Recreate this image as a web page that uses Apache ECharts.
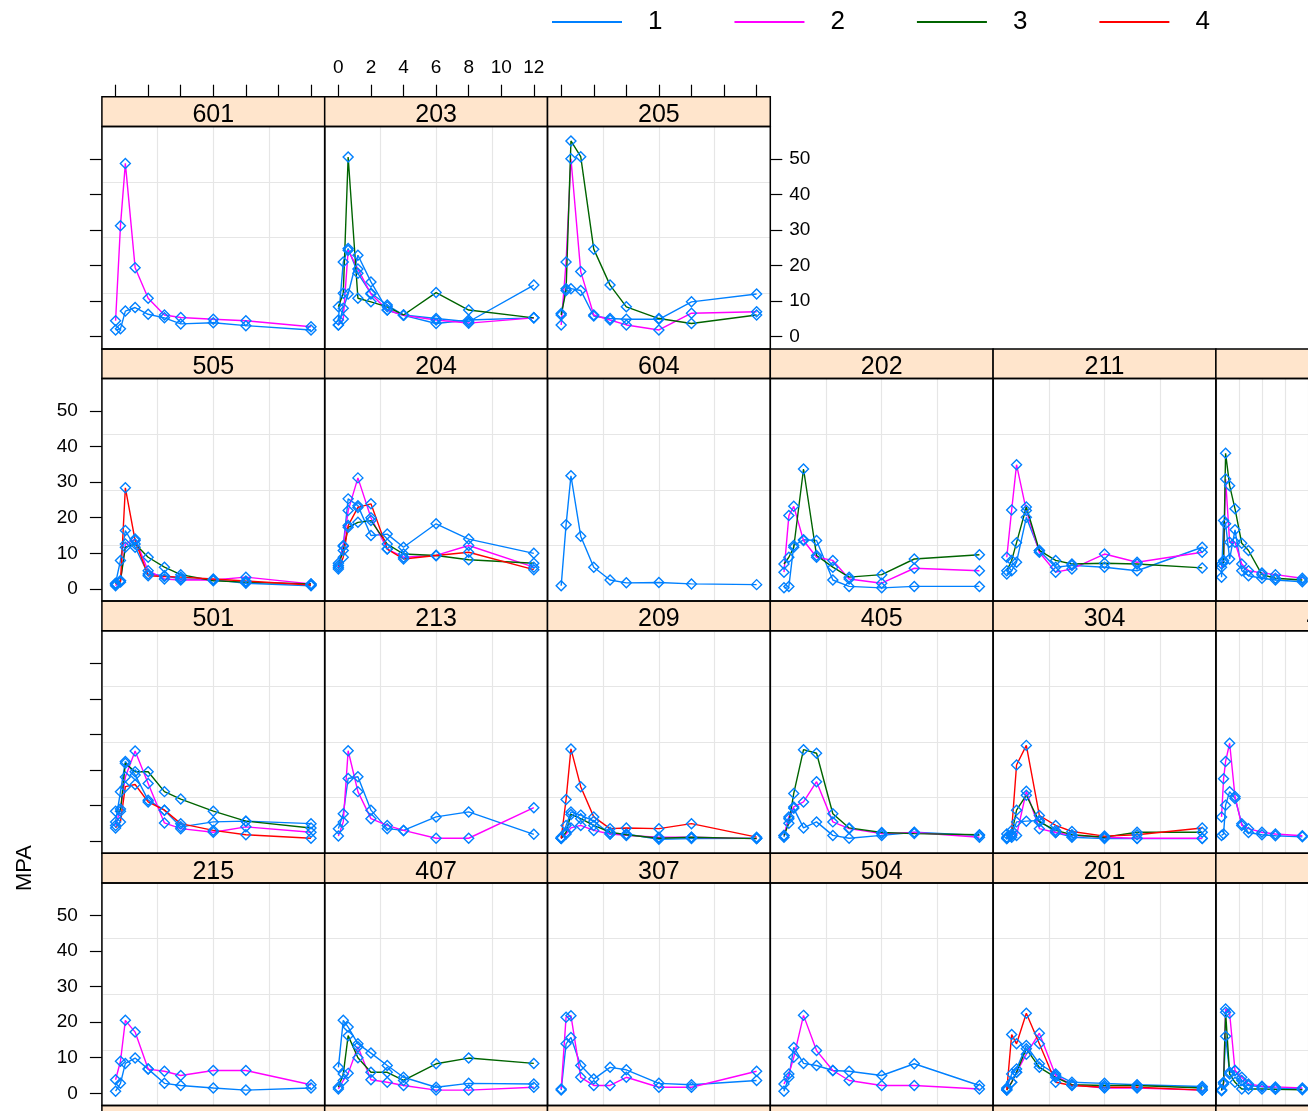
<!DOCTYPE html>
<html><head><meta charset="utf-8">
<script src="https://cdn.jsdelivr.net/npm/echarts@6/dist/echarts.min.js"></script>
<style>html,body{margin:0;padding:0;background:#fff}#c{width:1308px;height:1111px}</style>
</head><body><div id="c"></div>
<script>
// ---------- data ----------
const times = [0, 0.3, 0.6, 1.2, 2, 3, 4, 6, 8, 12];
const groupNames = ['1', '2', '3', '4'];
const xTicks = [0, 2, 4, 6, 8, 10, 12];
const yTicks = [0, 10, 20, 30, 40, 50];
const yLabel = 'MPA';
// panel labels, rows top to bottom, columns left to right
const row1Panels = ['601', '203', '205'];
const row2Panels = ['505', '204', '604', '202', '211', '102'];
const row3Panels = ['501', '213', '209', '405', '304', '403'];
const row4Panels = ['215', '407', '307', '504', '201', '101'];
const nextRowColumns = 6; // strips of the following (cut off) row peek in at the bottom

const s601_1 = [1.9, 2.2, 7.2, 8.2, 6.3, 5.3, 3.6, 3.9, 3.1, 1.9];
const s601_2 = [4.5, 31.2, 48.7, 19.4, 10.8, 6.1, 5.4, 4.9, 4.5, 2.8];

const s203_1a = [4.7, 21, 24.8, 17.8, 12.2, 8.9, 6.1, 5.1, 4.2, 14.5];
const s203_1b = [3.3, 8, 12, 22.9, 15.4, 7.5, 6, 3.7, 4.7, 5.3];
const s203_2 = [3.3, 5, 24.3, 19, 12, 7.5, 6, 4.7, 3.8, 5.3];
const s203_3 = [8.4, 12.2, 50.5, 10.8, 9.8, 8.4, 6.1, 12.4, 7.5, 5.3];

const s205_1 = [6.5, 13.5, 13.5, 13, 5.8, 5.1, 4.9, 4.9, 9.8, 12];
const s205_2 = [3.3, 21, 50, 18.3, 6.1, 4.7, 3.3, 1.9, 6.6, 7];
const s205_3 = [6.1, 13, 55, 50.6, 24.6, 14.5, 8.4, 5.1, 3.7, 6.1];

const s505_1 = [1.6, 8, 16.4, 11.7, 4.2, 3.7, 2.8, 2.6, 1.6, 0.9];
const s505_2 = [0.9, 2.3, 12.6, 14, 5.1, 2.8, 2.5, 2.5, 3.3, 1.4];
const s505_3 = [1.4, 2.3, 11.7, 12.6, 8.9, 6.1, 4, 2.3, 1.9, 1.4];
const s505_4 = [1.4, 1.9, 28.4, 13.6, 3.7, 3.5, 3.3, 2.8, 2.2, 1.1];

const s204_1 = [7.2, 12.2, 25.3, 23.4, 15, 15.4, 11.7, 18.3, 14, 10];
const s204_2 = [6.1, 12, 22, 31.2, 20, 11.2, 8.9, 9.4, 12.2, 6.1];
const s204_3 = [6.6, 10.8, 17.3, 18.7, 19.2, 12.6, 9.8, 9.4, 8.2, 7.2];
const s204_4 = [5.6, 8.9, 17.8, 22.9, 23.9, 11.2, 8.4, 9.4, 10.3, 5.4];

const s604_1 = [0.9, 18, 31.8, 14.8, 6.1, 2.5, 1.7, 1.8, 1.4, 1.2];

const s202_1 = [0.3, 0.7, 12.2, 13.8, 13.6, 2.5, 0.7, 0.3, 0.7, 0.7];
const s202_2 = [4.7, 20.6, 23.2, 13.6, 8.9, 8, 2.8, 1.6, 5.8, 5.1];
const s202_3 = [7, 8.9, 11.7, 33.7, 9.4, 6.1, 3.3, 4, 8.4, 9.6];

const s211_1 = [4.2, 5.1, 7.5, 20.1, 10.8, 6.1, 6.6, 6.1, 5.1, 11.7];
const s211_2 = [8.9, 22.2, 34.9, 22, 10.3, 4.7, 5.6, 9.8, 7.5, 10.3];
const s211_3 = [5.1, 8, 13, 23, 10.8, 8, 7, 7.2, 7, 5.9];

const s102_1 = [3.3, 19.2, 18.3, 8.4, 16.6, 5.1, 3.7, 3, 2.5, 2];
const s102_2 = [6.1, 8, 30.9, 13.1, 13.1, 7, 5.1, 4.5, 4, 3];
const s102_3 = [7, 7.5, 38.1, 29, 22.5, 12.8, 10.8, 4, 3, 2.5];

const s501_1 = [5.4, 13.9, 22.4, 18.6, 11.5, 8.7, 4, 5.4, 5.6, 4.9];
const s501_2 = [4.4, 9, 18, 25.3, 16.2, 5.1, 3.5, 2.5, 4, 2.5];
const s501_3 = [8.4, 8.4, 21.9, 19.5, 19.5, 13.9, 11.8, 8.4, 5.6, 3.7];
const s501_4 = [3.7, 5.4, 15.3, 15.9, 11, 8.7, 4.9, 3, 1.8, 0.8];

const s213_1 = [3.5, 7.7, 17.6, 18.1, 8.7, 3.5, 3, 6.8, 8.2, 1.9];
const s213_2 = [1.4, 5.4, 25.4, 13.9, 6.3, 4.4, 3, 0.8, 0.8, 9.4];

const s209_1 = [1.1, 4.4, 8.2, 7.3, 5.6, 2, 2, 0.5, 0.7, 0.8];
const s209_2 = [0.7, 2, 3.7, 4.4, 3, 2, 1.6, 1.1, 1.1, 0.7];
const s209_3 = [0.8, 2.5, 7.5, 6.3, 4.4, 2.5, 1.8, 0.8, 1.1, 0.7];
const s209_4 = [0.8, 11.7, 25.9, 15.3, 6.8, 3.5, 3.7, 3.5, 4.9, 1.1];

const s405_1 = [1.1, 6.3, 9.2, 3.7, 5.4, 1.6, 0.8, 1.6, 2.5, 1.6];
const s405_2 = [1.6, 6.8, 9.6, 11, 16.7, 5.4, 3.5, 2.1, 2.4, 1.1];
const s405_3 = [1.6, 5, 13.4, 25.7, 24.7, 7.7, 3.7, 2.4, 2.1, 1.8];

const s304_1 = [2, 1.6, 5.4, 5.6, 5.8, 2.4, 1.1, 0.7, 0.7, 0.7];
const s304_2 = [0.7, 1.1, 1.6, 14, 3.5, 2.4, 1.6, 1.1, 0.8, 0.8];
const s304_3 = [0.7, 2, 8.7, 12.9, 5.4, 3, 1.8, 1.1, 2.5, 2.5];
const s304_4 = [1.1, 3, 21.4, 26.9, 7.2, 4.4, 2.7, 1.4, 1.8, 3.7];

const s403_1 = [1.6, 2, 10.1, 13.9, 12, 4.9, 2.4, 1.8, 1.5, 1.2];
const s403_2 = [6.8, 17.5, 22.4, 27.5, 12.5, 4.4, 3.5, 2.5, 2, 1.5];

const s215_1 = [0.6, 2.8, 8.4, 9.9, 6.8, 2.8, 2.2, 1.5, 0.9, 1.5];
const s215_2 = [3.8, 9, 20.5, 17.2, 6.8, 6.2, 5, 6.4, 6.4, 2.4];

const s407_1 = [7.3, 20.5, 18.6, 13.9, 11.3, 7.8, 4.5, 1.7, 2.8, 2.6];
const s407_2 = [1.2, 3.6, 5.6, 13.1, 3.8, 3.1, 2.2, 0.9, 0.9, 1.7];
const s407_3 = [1.7, 5.4, 16.2, 10, 5.9, 5.9, 3.6, 8.3, 9.9, 8.4];

const s307_1 = [0.9, 13.9, 15.7, 7.8, 4, 7.3, 6.6, 2.8, 2.4, 3.6];
const s307_2 = [1.2, 21.4, 21.8, 4.5, 2.2, 2.2, 4.5, 1.7, 1.7, 6.2];

const s504_1 = [0.6, 4.5, 12.9, 8.4, 7.8, 6.4, 6.2, 5, 8.3, 2.2];
const s504_2 = [2.6, 5.4, 10.1, 21.9, 12, 6.4, 3.6, 2.2, 2.2, 1.2];

const s201_1 = [1.5, 5.4, 6.8, 13.4, 8.3, 5.4, 3.1, 2.8, 2.4, 1.9];
const s201_2 = [1.2, 3.1, 5.9, 11, 16.9, 5, 2.4, 1.5, 1.5, 0.9];
const s201_3 = [0.9, 3.1, 5.9, 12.5, 7.3, 4.5, 2.4, 2.2, 2.2, 1.5];
const s201_4 = [0.9, 16.5, 13.9, 22.5, 13.9, 3.1, 2.2, 1.7, 1.7, 0.9];

const s101_1 = [0.7, 3.1, 16, 5.9, 6.4, 3.6, 2.2, 1.8, 1.5, 1.2];
const s101_2 = [0.9, 2.6, 23.7, 22.5, 6.4, 4.5, 2.6, 2, 1.8, 1.5];
const s101_3 = [0.9, 3, 22.8, 5.4, 3.1, 1.2, 1.2, 1.2, 1.1, 1];

// [group index, values]
const panelSeries = {
  '601': [[0, s601_1], [1, s601_2]],
  '203': [[0, s203_1a], [0, s203_1b], [1, s203_2], [2, s203_3]],
  '205': [[0, s205_1], [1, s205_2], [2, s205_3]],
  '505': [[0, s505_1], [1, s505_2], [2, s505_3], [3, s505_4]],
  '204': [[0, s204_1], [1, s204_2], [2, s204_3], [3, s204_4]],
  '604': [[0, s604_1]],
  '202': [[0, s202_1], [1, s202_2], [2, s202_3]],
  '211': [[0, s211_1], [1, s211_2], [2, s211_3]],
  '102': [[0, s102_1], [1, s102_2], [2, s102_3]],
  '501': [[0, s501_1], [1, s501_2], [2, s501_3], [3, s501_4]],
  '213': [[0, s213_1], [1, s213_2]],
  '209': [[0, s209_1], [1, s209_2], [2, s209_3], [3, s209_4]],
  '405': [[0, s405_1], [1, s405_2], [2, s405_3]],
  '304': [[0, s304_1], [1, s304_2], [2, s304_3], [3, s304_4]],
  '403': [[0, s403_1], [1, s403_2]],
  '215': [[0, s215_1], [1, s215_2]],
  '407': [[0, s407_1], [1, s407_2], [2, s407_3]],
  '307': [[0, s307_1], [1, s307_2]],
  '504': [[0, s504_1], [1, s504_2]],
  '201': [[0, s201_1], [1, s201_2], [2, s201_3], [3, s201_4]],
  '101': [[0, s101_1], [1, s101_2], [2, s101_3]]
};

// ---------- styling / layout ----------
const lineColors = ['#0080ff', '#ff00ff', '#006400', '#ff0000'];
const pointColor = '#0080ff';
const FONT = '"Liberation Sans", Arial, sans-serif';
const colLeft0 = 101.9, colPitch = 222.8, panelW = 222.8;
const rowTop0 = 96.7, rowPitch = 252.2, stripH = 29.7, panelH = 222.5;
const xMin = -0.84, xMax = 12.84, yMin = -3.43, yMax = 59.1;

const rows = [row1Panels, row2Panels, row3Panels, row4Panels];
const grids = [], xAxes = [], yAxes = [], series = [], graphics = [];

rows.forEach((row, r) => {
  row.forEach((label, c) => {
    const L = colLeft0 + c * colPitch;
    const T = rowTop0 + r * rowPitch;
    const gi = grids.length;
    grids.push({ left: L, top: T + stripH, width: panelW, height: panelH, show: false });
    const xi = xAxes.length, yi = yAxes.length;
    xAxes.push({ gridIndex: gi, type: 'value', min: xMin, max: xMax, interval: (xMax - xMin) / 4,
      axisLine: { show: false, onZero: false }, axisTick: { show: false }, axisLabel: { show: false },
      splitLine: { show: true, lineStyle: { color: '#e6e6e6', width: 1.2 } } });
    yAxes.push({ gridIndex: gi, type: 'value', min: yMin, max: yMax, interval: (yMax - yMin) / 4,
      axisLine: { show: false, onZero: false }, axisTick: { show: false }, axisLabel: { show: false },
      splitLine: { show: true, lineStyle: { color: '#e6e6e6', width: 1.2 } } });
    if (r === 0) {
      xAxes.push({ gridIndex: gi, type: 'value', position: 'top', offset: stripH, min: xMin, max: xMax,
        axisLine: { show: false, onZero: false },
        axisTick: { show: true, length: 12, customValues: xTicks, lineStyle: { color: '#000', width: 1.2 } },
        axisLabel: { show: c === 1, customValues: xTicks, margin: 19, fontSize: 19, color: '#000', fontFamily: FONT },
        splitLine: { show: false } });
    }
    if (c === 0) {
      yAxes.push({ gridIndex: gi, type: 'value', position: 'left', min: yMin, max: yMax,
        axisLine: { show: false, onZero: false },
        axisTick: { show: true, length: 12, customValues: yTicks, lineStyle: { color: '#000', width: 1.2 } },
        axisLabel: { show: r % 2 === 1, customValues: yTicks, margin: 24, fontSize: 19, color: '#000', fontFamily: FONT },
        splitLine: { show: false } });
    }
    if (r === 0 && c === row.length - 1) {
      yAxes.push({ gridIndex: gi, type: 'value', position: 'right', min: yMin, max: yMax,
        axisLine: { show: false, onZero: false },
        axisTick: { show: true, length: 12, customValues: yTicks, lineStyle: { color: '#000', width: 1.2 } },
        axisLabel: { show: true, customValues: yTicks, margin: 19, fontSize: 19, color: '#000', fontFamily: FONT },
        splitLine: { show: false } });
    }
    (panelSeries[label] || []).forEach(([g, vals]) => {
      series.push({ type: 'line', name: groupNames[g], xAxisIndex: xi, yAxisIndex: yi,
        data: times.map((t, k) => [t, vals[k]]),
        symbol: 'diamond', symbolSize: 10, showSymbol: true, showAllSymbol: true,
        lineStyle: { color: lineColors[g], width: 1.4 },
        itemStyle: { color: 'rgba(255,255,255,0)', borderColor: pointColor, borderWidth: 1.4 },
        emphasis: { disabled: true }, silent: true, clip: true, z: 3 });
    });
    // strip
    graphics.push({ type: 'rect', shape: { x: L, y: T, width: panelW, height: stripH },
      style: { fill: '#ffe5cc', stroke: '#000', lineWidth: 1.5 }, z: 1 });
    graphics.push({ type: 'text', x: L + panelW / 2, y: T + stripH / 2 + 3.5,
      style: { text: label, font: '25px ' + FONT, fill: '#000', textAlign: 'center', textVerticalAlign: 'middle' }, z: 2 });
    // panel border on top
    graphics.push({ type: 'rect', shape: { x: L, y: T + stripH, width: panelW, height: panelH },
      style: { fill: 'none', stroke: '#000', lineWidth: 1.5 }, z: 100, silent: true });
  });
});

// tops of the strips of the next row, cut off by the bottom edge
for (let c = 0; c < nextRowColumns; c++) {
  graphics.push({ type: 'rect', shape: { x: colLeft0 + c * colPitch, y: rowTop0 + 4 * rowPitch, width: panelW, height: stripH },
    style: { fill: '#ffe5cc', stroke: '#000', lineWidth: 1.5 }, z: 1 });
}

graphics.push({ type: 'text', x: 25, y: 868, rotation: Math.PI / 2,
  style: { text: yLabel, font: '22px ' + FONT, fill: '#000', textAlign: 'center', textVerticalAlign: 'middle' } });

const chart = echarts.init(document.getElementById('c'), null, { renderer: 'canvas' });
chart.setOption({
  animation: false,
  backgroundColor: '#fff',
  legend: {
    data: groupNames.map((n, i) => ({ name: n, itemStyle: { color: lineColors[i], borderWidth: 0 } })),
    left: 547, top: 4, icon: 'rect', itemWidth: 70, itemHeight: 2, itemGap: 72,
    selectedMode: false,
    textStyle: { fontSize: 26, color: '#000', fontFamily: FONT, padding: [0, 0, 0, 21] }
  },
  grid: grids, xAxis: xAxes, yAxis: yAxes, series: series, graphic: graphics
});
</script></body></html>
